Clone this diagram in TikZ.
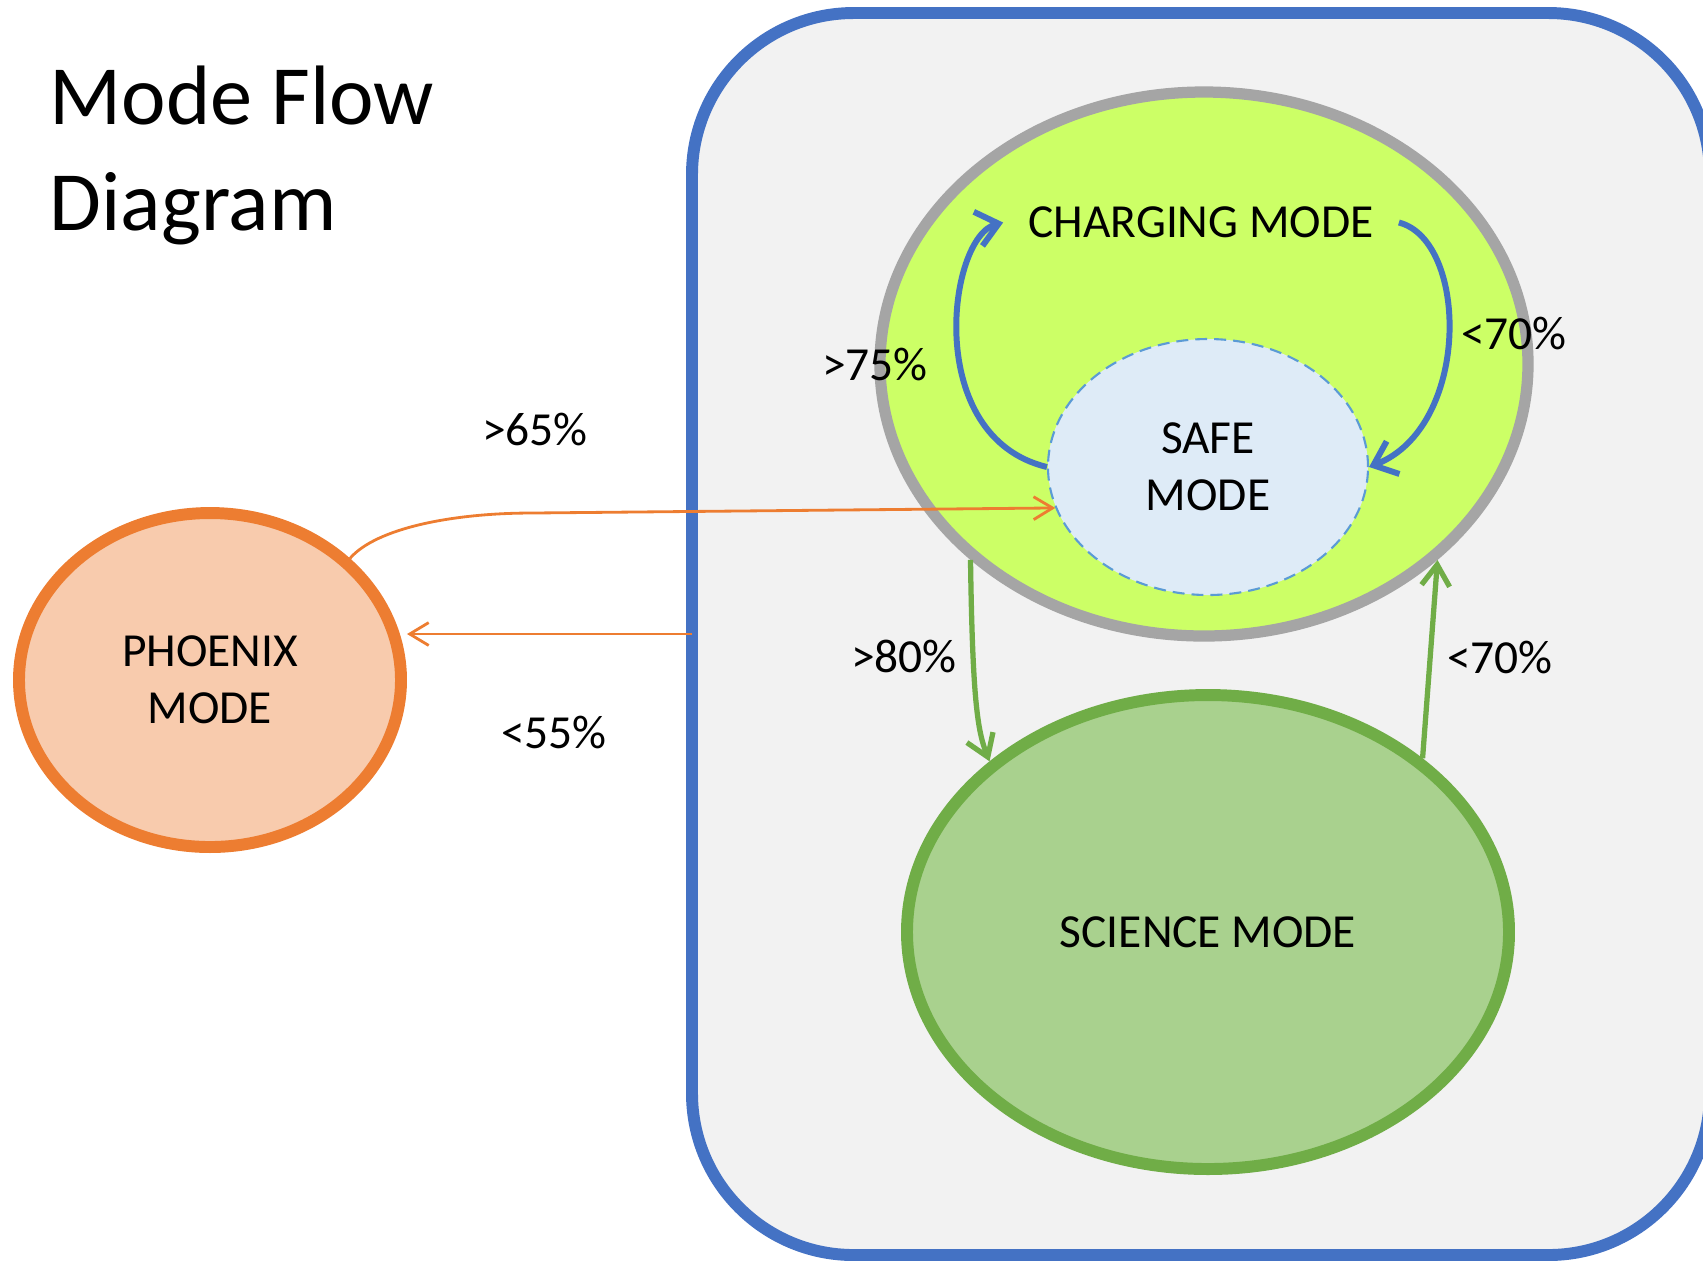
\documentclass[tikz,border=0pt]{standalone}
\usepackage{fontspec}
\setmainfont{Carlito}
\usetikzlibrary{shapes.geometric,arrows.meta}

\definecolor{boxblue}{HTML}{4472C4}
\definecolor{boxgray}{HTML}{F2F2F2}
\definecolor{ringgray}{HTML}{A5A5A5}
\definecolor{chglime}{HTML}{CCFF66}
\definecolor{safeblue}{HTML}{5B9BD5}
\definecolor{safefill}{HTML}{DEEBF7}
\definecolor{scigreen}{HTML}{70AD47}
\definecolor{scifill}{HTML}{A9D18E}
\definecolor{phxorange}{HTML}{ED7D31}
\definecolor{phxfill}{HTML}{F8CBAD}

\newcommand{\modefont}{\fontsize{13.5}{16.2}\selectfont}

\tikzset{
  txt/.style={inner sep=0pt, align=center, font=\modefont},
  mode/.style={txt, ellipse},
  pct/.style={txt, anchor=base},
}

\begin{document}
\begin{tikzpicture}

            \useasboundingbox (0,0) rectangle (17.03,-12.60);

            \node[anchor=base west, inner sep=0pt, align=left,
                  font=\fontsize{24}{29.9}\selectfont]
            	(title) at (0.49,-2.30) {Mode Flow\\Diagram};

            \node[rectangle, rounded corners=46pt, draw=boxblue, fill=boxgray,
                  line width=3.4pt, outer sep=0pt,
                  minimum width=10.18cm, minimum height=12.42cm]
            	(box) at (12.01,-6.34) {};

            \node[mode, draw=ringgray, fill=chglime, line width=3.2pt,
                  minimum width=6.48cm, minimum height=5.44cm]
            	(chgoval) at (12.04,-3.64) {};
            \node[txt, inner xsep=7pt]
            	(charging) at (12.01,-2.225) {CHARGING MODE};
            \node[mode, draw=safeblue, fill=safefill, line width=0.6pt,
                  dash pattern=on 3.4pt off 2pt,
                  minimum width=3.20cm, minimum height=2.56cm]
            	(safe) at (12.08,-4.67) {SAFE\\MODE};
            \node[mode, draw=scigreen, fill=scifill, line width=3.4pt,
                  minimum width=6.02cm, minimum height=4.74cm]
            	(science) at (12.08,-9.32) {SCIENCE MODE};
            \node[mode, draw=phxorange, fill=phxfill, line width=3.4pt,
                  minimum width=3.82cm, minimum height=3.34cm]
            	(phoenix) at (2.10,-6.80) {PHOENIX\\MODE};

            \node[pct] (l75)  at (8.75,-3.80)  {>75\%};
            \node[pct] (l70a) at (15.14,-3.49) {<70\%};
            \node[pct] (l65)  at (5.35,-4.45)  {>65\%};
            \node[pct] (l55)  at (5.54,-7.48)  {<55\%};
            \node[pct] (l80)  at (9.04,-6.72)  {>80\%};
            \node[pct] (l70b) at (15.00,-6.73) {<70\%};

            \begin{scope}[line width=1.7pt, boxblue, ->,
                          >={Straight Barb[length=6pt,width=10pt]}]
                \draw (safe.west) .. controls +(-1.25,0.30) and +(-0.55,-0.14) .. (charging.west);
                \draw (charging.east) .. controls +(0.70,-0.18) and +(1.02,0.40) .. (safe.east);
            \end{scope}
            \begin{scope}[line width=1.5pt, scigreen, ->,
                          >={Straight Barb[length=6pt,width=8pt]}]
                \draw (chgoval.220) .. controls +(0.02,-1.40) and +(-0.12,0.30) .. (science.142);
                \path (science.39) edge (chgoval.320);
            \end{scope}
            \begin{scope}[line width=0.8pt, phxorange, ->,
                          >={Straight Barb[length=5.4pt,width=6.5pt]}]
                \draw (phoenix.41) .. controls +(0.26,0.30) and +(-0.80,0) .. (5.32,-5.13) -- (safe.195);
                \path (box.west) edge (box.west -| phoenix.east);
            \end{scope}
        \end{tikzpicture}
\end{document}
